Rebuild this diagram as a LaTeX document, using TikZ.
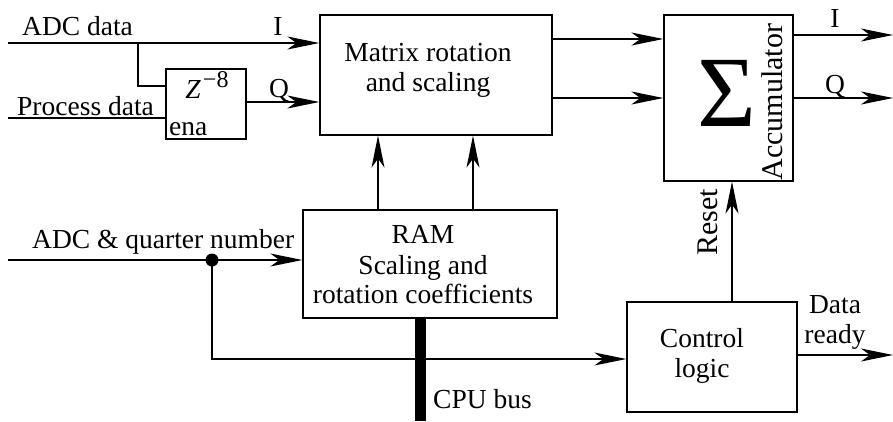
\documentclass[tikz,border=0pt]{standalone}
\usepackage{fontspec}
\setmainfont{Liberation Serif}
\usetikzlibrary{arrows.meta}
\begin{document}
\begin{tikzpicture}[x=1pt,y=-1pt,
  every node/.style={font=\fontsize{27.5}{30}\selectfont, inner sep=0pt},
  blk/.style={draw, line width=1.3pt, rectangle},
  wire/.style={line width=1.3pt},
  arr/.style={line width=1.3pt, -{Stealth[length=32pt,width=13pt,inset=9pt]}},
  lbl/.style={anchor=base},
  lblw/.style={anchor=base west}]
\useasboundingbox (0,0) rectangle (893,421);

% boxes
\node[blk, minimum width=80pt, minimum height=70pt] (zbox) at (206,104) {};
\node[blk, minimum width=232pt, minimum height=120pt] (matrix) at (436,75) {};
\node[blk, minimum width=129pt, minimum height=166pt] (acc) at (728.5,98) {};
\node[blk, minimum width=254pt, minimum height=108pt] (ram) at (430,264) {};
\node[blk, minimum width=170pt, minimum height=110pt] (ctrl) at (712,357) {};

% texts inside boxes
\node[lbl] (ztxt) at (207,98) {\textit{Z}\hspace{2pt}\raisebox{11pt}{\fontsize{24}{26}\selectfont −8}};
\node[lblw] (ena) at (169,135) {ena};
\node[lbl] (mt1) at (428,61) {Matrix rotation};
\node[lbl] (mt2) at (428,91) {and scaling};
\node[lbl] (rt1) at (423,243) {RAM};
\node[lbl] (rt2) at (423,274) {Scaling and};
\node[lbl] (rt3) at (423,303) {rotation coefficients};
\node[lbl] (ct1) at (702,347) {Control};
\node[lbl] (ct2) at (702,377) {logic};
\node (sigma) at (727,93) {\fontsize{101}{101}\selectfont Σ};
\node[rotate=90, font=\fontsize{30}{32}\selectfont] (acctxt) at (772,102) {Accumulator};

% outside labels
\node[lblw] (ladc) at (22,35) {ADC data};
\node[lbl] (lI1) at (278,35) {I};
\node[lblw] (lproc) at (17,115) {Process data};
\node[lbl] (lQ1) at (279,97) {Q};
\node[lbl] (lI2) at (835,27) {I};
\node[lbl] (lQ2) at (835,93) {Q};
\node[lblw] (lq) at (32,248) {ADC \& quarter number};
\node[lblw] (lcpu) at (433,408) {CPU bus};
\node[lbl] (ld1) at (835,313) {Data};
\node[lbl] (ld2) at (835,343) {ready};
\node[rotate=90, font=\fontsize{30}{32}\selectfont] (lreset) at (708,222) {Reset};

% coordinates
\coordinate (adcin) at (8,43);
\coordinate (br) at (138,43);
\coordinate (zin1) at (166,86);
\coordinate (procin) at (8,118);
\coordinate (zin2) at (166,118);
\coordinate (qout) at (246,102);
\coordinate (accIo) at (893,35);
\coordinate (accQo) at (893,98);
\coordinate (qnin) at (8,260);
\coordinate (dot) at (212,260);
\coordinate (busend) at (420,421);
\coordinate (drend) at (893,355);

% connectors
\draw[arr] (adcin) -- (adcin -| matrix.west);
\draw[wire] (br) |- (zin1);
\draw[wire] (procin) -- (zin2);
\draw[arr] (qout) -- (qout -| matrix.west);
\draw[arr] ([yshift=36pt]matrix.east) -- ([yshift=36pt]matrix.east -| acc.west);
\draw[arr] ([yshift=-23pt]matrix.east) -- ([yshift=-23pt]matrix.east -| acc.west);
\draw[arr] (accIo -| acc.east) -- (accIo);
\draw[arr] (accQo -| acc.east) -- (accQo);
\draw[arr] ([xshift=-52pt]ram.north) -- ([xshift=-52pt]ram.north |- matrix.south);
\draw[arr] ([xshift=43pt]ram.north) -- ([xshift=43pt]ram.north |- matrix.south);
\draw[arr] (qnin) -- (qnin -| ram.west);
\draw[arr] (dot) |- ([yshift=-2pt]ctrl.west);
\fill (dot) circle (6.5pt);
\draw[line width=11pt] (ram.south -| busend) -- (busend);
\draw[arr] ([xshift=20pt]ctrl.north) -- ([xshift=20pt]ctrl.north |- acc.south);
\draw[arr] (drend -| ctrl.east) -- (drend);
\end{tikzpicture}
\end{document}
